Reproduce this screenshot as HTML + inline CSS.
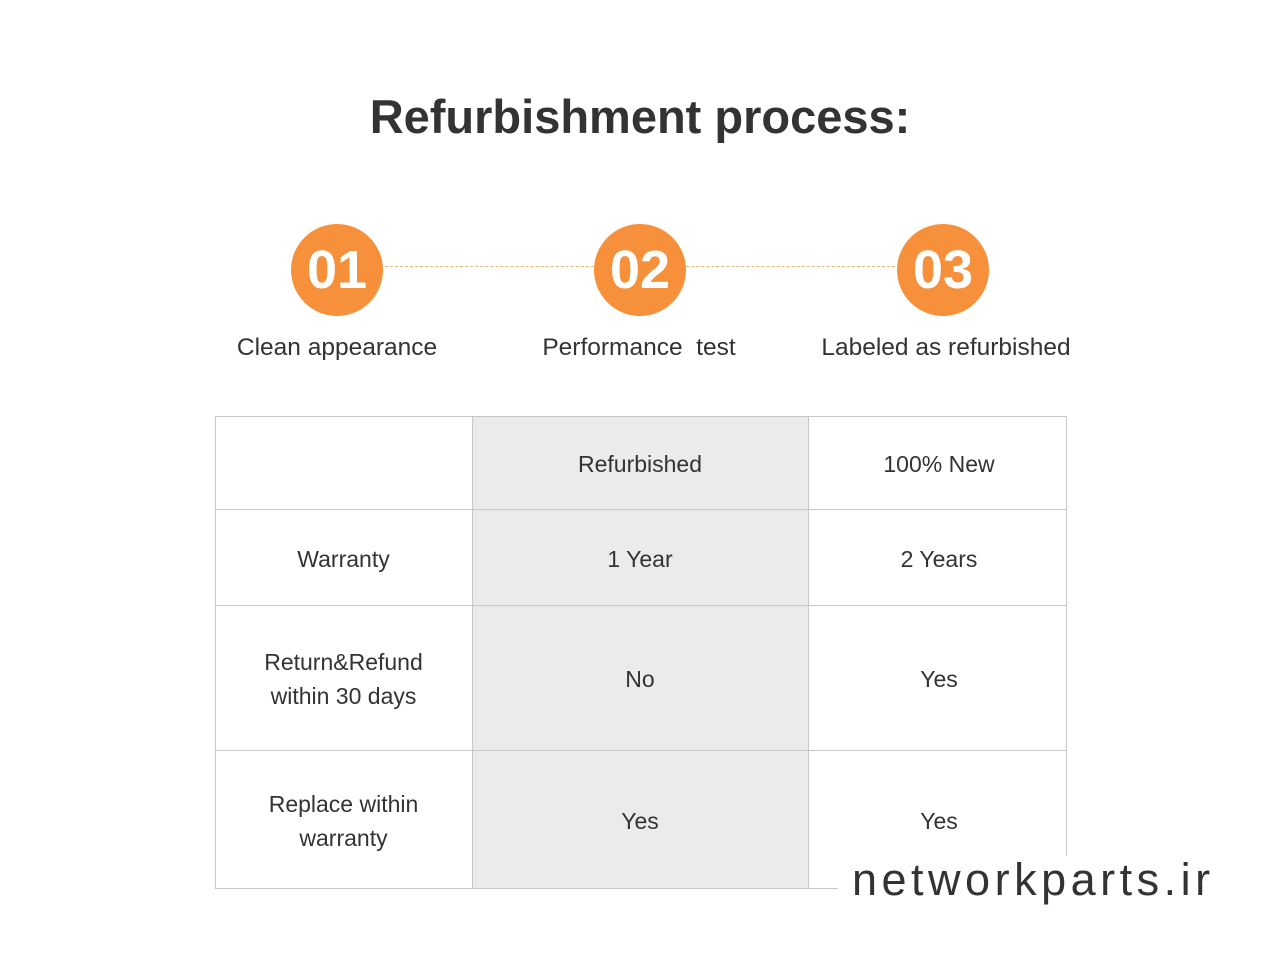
<!DOCTYPE html>
<html><head><meta charset="utf-8"><style>
body{margin:0;width:1280px;height:960px;background:#fff;position:relative;font-family:"Liberation Sans",sans-serif;color:#333;overflow:hidden}
.a{position:absolute}
.c{position:absolute;width:92px;height:92px;border-radius:50%;background:#f7903a;color:#fff;font-weight:bold;font-size:54px;text-align:center;line-height:92px;top:224px}
.l{position:absolute;top:334px;font-size:24.5px;text-align:center;width:320px;color:#333}
.cell{position:absolute;display:flex;align-items:center;justify-content:center;text-align:center;font-size:23px;line-height:34px;color:#333;padding-top:3px;box-sizing:border-box}
.h{position:absolute;background:#c8c8c8;height:1px}
.v{position:absolute;background:#c8c8c8;width:1px}
</style></head><body>
<div class="a" style="top:89px;left:0;width:1280px;text-align:center;font-size:47px;font-weight:bold;color:#333">Refurbishment process:</div>
<div class="a" style="top:266px;left:385px;width:510px;border-top:1px dashed #e8b77f"></div>
<div class="c" style="left:291px">01</div>
<div class="c" style="left:594px">02</div>
<div class="c" style="left:897px">03</div>
<div class="l" style="left:177px">Clean appearance</div>
<div class="l" style="left:479px">Performance&nbsp; test</div>
<div class="l" style="left:786px">Labeled as refurbished</div>
<div class="a" style="left:472px;top:416px;width:336px;height:472px;background:#ebebeb"></div>
<div class="h" style="left:215px;top:416px;width:852px"></div>
<div class="h" style="left:215px;top:509px;width:852px"></div>
<div class="h" style="left:215px;top:605px;width:852px"></div>
<div class="h" style="left:215px;top:750px;width:852px"></div>
<div class="h" style="left:215px;top:888px;width:852px"></div>
<div class="v" style="left:215px;top:416px;height:473px"></div>
<div class="v" style="left:472px;top:416px;height:473px"></div>
<div class="v" style="left:808px;top:416px;height:473px"></div>
<div class="v" style="left:1066px;top:416px;height:473px"></div>
<div class="cell" style="left:472px;top:416px;width:336px;height:93px">Refurbished</div>
<div class="cell" style="left:808px;top:416px;width:262px;height:93px">100% New</div>
<div class="cell" style="left:215px;top:509px;width:257px;height:96px">Warranty</div>
<div class="cell" style="left:472px;top:509px;width:336px;height:96px">1 Year</div>
<div class="cell" style="left:808px;top:509px;width:262px;height:96px">2 Years</div>
<div class="cell" style="left:215px;top:605px;width:257px;height:145px">Return&amp;Refund<br>within 30 days</div>
<div class="cell" style="left:472px;top:605px;width:336px;height:145px">No</div>
<div class="cell" style="left:808px;top:605px;width:262px;height:145px">Yes</div>
<div class="cell" style="left:215px;top:750px;width:257px;height:138px">Replace within<br>warranty</div>
<div class="cell" style="left:472px;top:750px;width:336px;height:138px">Yes</div>
<div class="cell" style="left:808px;top:750px;width:262px;height:138px">Yes</div>
<div class="a" style="left:838px;top:856px;width:380px;height:52px;background:#fff"></div>
<div class="a" style="left:852px;top:854px;font-size:45px;color:#333;letter-spacing:4.5px;font-weight:normal">networkparts.ir</div>
</body></html>
